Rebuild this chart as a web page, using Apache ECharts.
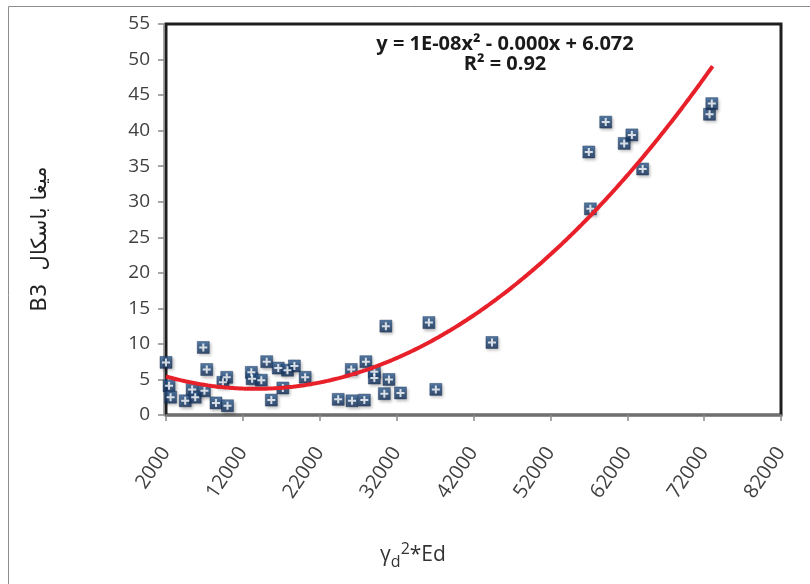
<!DOCTYPE html>
<html>
<head>
<meta charset="utf-8">
<script src="https://cdn.jsdelivr.net/npm/echarts@6/dist/echarts.min.js"></script>
<style>
  html, body { margin: 0; padding: 0; background: #ffffff; }
  #chart { width: 810px; height: 584px; }
</style>
</head>
<body>
<div id="chart"></div>
<script>
// Measured samples: gamma_d^2 * Ed against B3 (MPa)
const gammaEd = [
  2000, 2400, 2600, 4500, 5400, 5800, 6850, 7300, 7000, 8500,
  10000, 9400, 9900, 13100, 13200, 14400, 15100, 15700, 16600, 17200,
  17800, 18700, 20100, 24400, 26100, 26200, 27800, 28000, 29100, 29100,
  30400, 31000, 30600, 32500, 36200, 37100, 44400, 57000, 57200, 59200,
  61600, 62600, 64000, 72700, 73000
];
const b3Mpa = [
  7.4, 4.1, 2.5, 2.0, 3.6, 2.5, 9.5, 6.4, 3.4, 1.7,
  1.3, 4.6, 5.3, 6.0, 5.1, 4.9, 7.5, 2.1, 6.6, 3.8,
  6.3, 6.9, 5.3, 2.2, 6.4, 2.0, 2.1, 7.5, 6.1, 5.2,
  3.0, 5.0, 12.5, 3.1, 13.0, 3.6, 10.2, 37.0, 29.0, 41.2,
  38.2, 39.4, 34.6, 42.3, 43.8
];

// Polynomial trend (order 2): y = a x^2 + b x + c
const trendCoef = [1.284e-8, -3.505e-4, 6.072];
const trendRange = [2000, 73100];
const trendStep = 500;

const xTickRange = [2000, 82000, 10000];
const yTickRange = [0, 55, 5];

const equationLines = ['y = 1E-08x² - 0.000x + 6.072', 'R² = 0.92'];

const scatterData = gammaEd.map((x, i) => [x, b3Mpa[i]]);
const trendAt = x => trendCoef[0] * x * x + trendCoef[1] * x + trendCoef[2];
const trendData = [];
for (let x = trendRange[0]; x < trendRange[1]; x += trendStep) {
  trendData.push([x, trendAt(x)]);
}
trendData.push([trendRange[1], trendAt(trendRange[1])]);

const chart = echarts.init(document.getElementById('chart'), null, { renderer: 'canvas' });
const baseFont = '"Open Sans", "DejaVu Sans", sans-serif';

chart.setOption({
  backgroundColor: '#ffffff',
  animation: false,
  grid: {
    left: 166, right: 29, top: 24, bottom: 169,
    show: true, borderColor: '#1e1e1e', borderWidth: 3, backgroundColor: 'transparent'
  },
  xAxis: {
    type: 'value',
    min: xTickRange[0], max: xTickRange[1], interval: xTickRange[2],
    offset: 2,
    splitLine: { show: false },
    axisLine: { show: true, lineStyle: { color: '#8a8a8a', width: 1.5 } },
    axisTick: { show: true, length: 6, lineStyle: { color: '#8a8a8a', width: 1.5 } },
    axisLabel: {
      rotate: 56, margin: 32, color: '#404040', fontSize: 20, fontFamily: baseFont,
      showMinLabel: true, showMaxLabel: true,
      formatter: v => String(v)
    }
  },
  yAxis: {
    type: 'value',
    min: yTickRange[0], max: yTickRange[1], interval: yTickRange[2],
    offset: 2,
    splitLine: { show: false },
    axisLine: { show: true, lineStyle: { color: '#8a8a8a', width: 1.5 } },
    axisTick: { show: true, length: 6, lineStyle: { color: '#8a8a8a', width: 1.5 } },
    axisLabel: { margin: 14, color: '#404040', fontSize: 19, fontFamily: baseFont }
  },
  series: [
    {
      name: 'marker',
      type: 'scatter',
      data: scatterData,
      symbol: 'rect',
      symbolSize: 12,
      z: 2,
      itemStyle: {
        color: new echarts.graphic.LinearGradient(0, 0, 0, 1, [
          { offset: 0, color: '#2f5f94' },
          { offset: 1, color: '#112d57' }
        ]),
        borderColor: '#0f2a52',
        borderWidth: 0.5,
        shadowBlur: 3,
        shadowOffsetX: 1.5,
        shadowOffsetY: 2,
        shadowColor: 'rgba(0,0,0,0.35)'
      },
      emphasis: { disabled: true }
    },
    {
      name: 'cross',
      type: 'scatter',
      data: scatterData,
      symbol: 'path://M3,0H5V3H8V5H5V8H3V5H0V3H3Z',
      symbolSize: 8,
      z: 3,
      silent: true,
      itemStyle: { color: '#ffffff' },
      emphasis: { disabled: true }
    },
    {
      name: 'trend',
      type: 'line',
      data: trendData,
      showSymbol: false,
      smooth: true,
      z: 4,
      lineStyle: { color: '#e8202a', width: 4 },
      silent: true
    }
  ],
  graphic: [
    {
      type: 'rect',
      silent: true,
      shape: { x: 8.5, y: 6.5, width: 900, height: 700 },
      style: { fill: 'none', stroke: '#8c8c8c', lineWidth: 1 }
    },
    {
      type: 'text',
      silent: true,
      x: 505, y: 44,
      style: {
        text: equationLines[0],
        align: 'center', verticalAlign: 'middle',
        font: 'bold 20px ' + baseFont,
        fill: '#1a1a1a'
      }
    },
    {
      type: 'text',
      silent: true,
      x: 505, y: 64,
      style: {
        text: equationLines[1],
        align: 'center', verticalAlign: 'middle',
        font: 'bold 20px ' + baseFont,
        fill: '#1a1a1a'
      }
    },
    {
      type: 'text',
      silent: true,
      x: 413, y: 566,
      style: {
        text: '{g|γ}{s|d}{p|2}{g|*Ed}',
        align: 'center',
        verticalAlign: 'bottom',
        rich: {
          g: { fontSize: 21, fontFamily: baseFont, fill: '#333333', verticalAlign: 'bottom' },
          s: { fontSize: 16, fontFamily: baseFont, fill: '#333333', verticalAlign: 'bottom', padding: [0, 0, -4, 0] },
          p: { fontSize: 16, fontFamily: baseFont, fill: '#333333', verticalAlign: 'bottom', padding: [0, 0, 9, 0] }
        }
      }
    },
    {
      type: 'text',
      silent: true,
      x: 41, y: 239,
      rotation: Math.PI / 2,
      style: {
        text: 'B3  ميغا باسكال',
        align: 'center', verticalAlign: 'middle',
        font: '21px "DejaVu Sans", sans-serif',
        fill: '#222222'
      }
    }
  ]
});
</script>
</body>
</html>
